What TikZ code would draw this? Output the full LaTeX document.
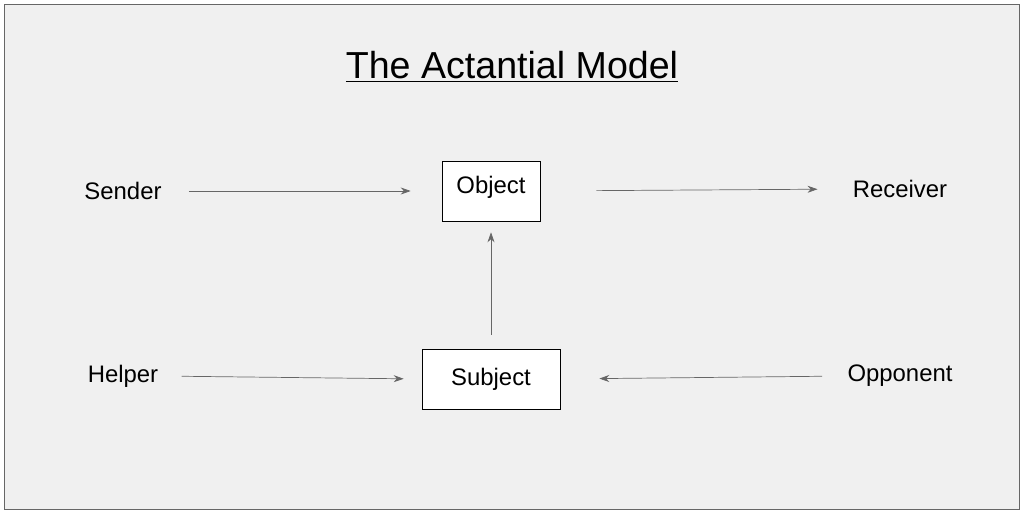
\documentclass[tikz,border=0pt]{standalone}
\usepackage{fontspec}
\setmainfont{Liberation Sans}
\usetikzlibrary{positioning,arrows.meta}
\begin{document}
\begin{tikzpicture}[x=0.02cm,y=-0.02cm,
        actant/.style={font=\fontsize{13.6}{16}\selectfont, inner sep=0pt},
        actant_box/.style={draw=black, fill=white, thin, font=\fontsize{13.6}{16}\selectfont},
        link/.style={draw=black!60, thin, -{Stealth[length=2mm,width=1.4mm]}}
        ]
            % frame
            \useasboundingbox (0,0) rectangle (1024,513);
            \filldraw[draw=black!60, fill=black!6] (4,4) rectangle (1019,509);
            % title
            \node[font=\fontsize{21.4}{26}\selectfont] (title) at (512,67) {\underline{The Actantial Model}};
            % boxes
            \node[actant_box, minimum width=1.96cm, minimum height=1.2cm] (object) at (491,191) {\raisebox{0.25cm}{Object}};
            \node[actant_box, minimum width=2.76cm, minimum height=1.2cm] (subject) at (491,379) {\raisebox{0.1cm}{Subject}};
            % actants
            \node[actant] (sender)   at (123,191) {Sender};
            \node[actant] (receiver) at (900,189) {Receiver};
            \node[actant] (helper)   at (123,376) {Helper};
            \node[actant] (opponent) at (900,376) {Opponent};
            % links
            \draw[link, shorten <=0.54cm, shorten >=0.62cm] (sender.east) -- (object.west);
            \draw[link, shorten <=1.12cm, shorten >=0.7cm] (object.east) -- (receiver.west);
            \draw[link, shorten <=0.28cm, shorten >=0.22cm] (subject.north) -- (object.south);
            \draw[link, shorten <=0.46cm, shorten >=0.36cm] (helper.east) -- (subject.west);
            \draw[link, shorten <=0.5cm, shorten >=0.78cm] (opponent.west) -- (subject.east);
\end{tikzpicture}
\end{document}
